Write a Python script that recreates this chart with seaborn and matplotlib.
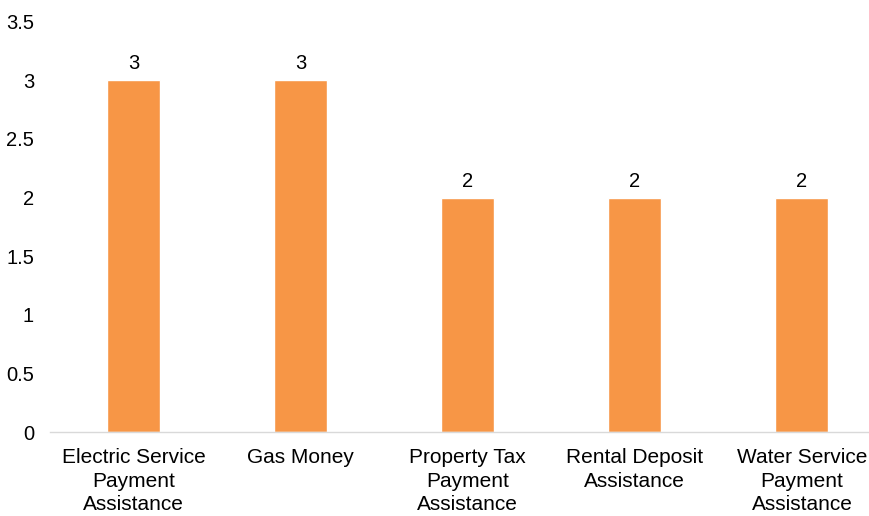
import matplotlib
matplotlib.use("Agg")
import matplotlib.pyplot as plt
import seaborn as sns
import pandas as pd

# data
programas = ['Electric Service\nPayment\nAssistance', 'Gas Money',
             'Property Tax\nPayment\nAssistance', 'Rental Deposit\nAssistance',
             'Water Service\nPayment\nAssistance']
contagem = [3, 3, 2, 2, 2]
y_ticks = [0, 0.5, 1, 1.5, 2, 2.5, 3, 3.5]

df = pd.DataFrame({'Programa': programas, 'Qtd': contagem})

sns.set_style('white')
plt.rcParams['font.family'] = ['Liberation Sans', 'DejaVu Sans']

W, H = 869, 516
fig = plt.figure(figsize=(W / 100, H / 100), dpi=100)
# axes extends a bit past the right edge, as in the original
ax = fig.add_axes([50 / W, (H - 432.3) / H, 835.5 / W, (432.3 - 21.5) / H])

sns.barplot(data=df, x='Programa', y='Qtd', color='#F79646', width=0.317,
            saturation=1, ax=ax)

for i, v in enumerate(contagem):
    ax.text(i, v + 0.06, f'{v:g}', ha='center', va='bottom', fontsize=14.5, color='#000000')

ax.set_ylim(0, 3.5)
ax.set_xlim(-0.5, len(programas) - 0.5)
ax.set_yticks(y_ticks)
ax.set_yticklabels([f'{t:g}' for t in y_ticks])
ax.set_xlabel('')
ax.set_ylabel('')
for s in ['top', 'right', 'left']:
    ax.spines[s].set_visible(False)
ax.spines['bottom'].set_color('#D9D9D9')
ax.spines['bottom'].set_linewidth(1.0)
ax.tick_params(axis='y', length=0, pad=11.5, labelsize=14.5, labelcolor='#000000')
ax.tick_params(axis='x', length=0, pad=11.5, labelsize=15, labelcolor='#000000')
for lab in ax.get_xticklabels():
    lab.set_linespacing(1.3)
ax.grid(False)

fig.savefig('out.png', dpi=100)
